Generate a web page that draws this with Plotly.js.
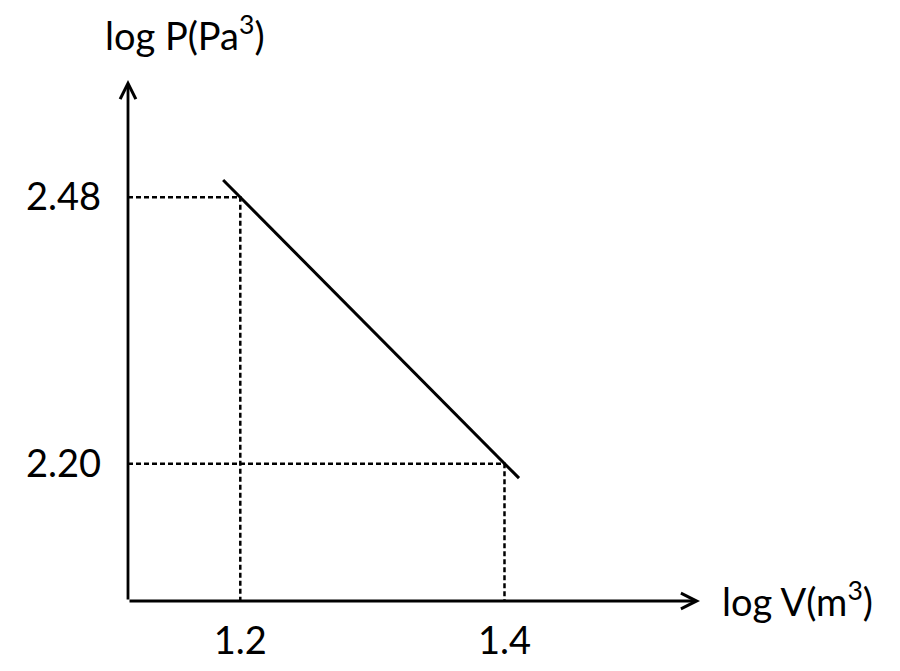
<!DOCTYPE html>
<html>
<head>
<meta charset="utf-8">
<script src="https://cdn.plot.ly/plotly-3.0.1.min.js"></script>
<style>
  body { margin: 0; background: #fff; }
  #chart { width: 900px; height: 671px; }
</style>
</head>
<body>
<div id="chart"></div>
<script>
// values
const xTicks = [1.2, 1.4];
const xTickText = ["1.2", "1.4"];
const yTicks = [2.2, 2.48];
const yTickText = ["2.20", "2.48"];

// the two marked points
const pointX = [1.2, 1.4];
const pointY = [2.48, 2.2];

// the drawn line runs a little past both points
const lineX = [1.187, 1.411];
const lineY = [2.498, 2.185];

const xMin = 1.115, xMax = 1.548;
const yMin = 2.056, yMax = 2.603;

const FONT = "Lato, 'Open Sans', sans-serif";

var traces = [];

// dotted guide lines for each point
for (let i = 0; i < pointX.length; i++) {
  traces.push({
    x: [xMin, pointX[i], pointX[i]],
    y: [pointY[i], pointY[i], yMin],
    mode: "lines",
    line: { color: "#000", width: 2.5, dash: "5px,3px" },
    hoverinfo: "skip",
  });
}

traces.push({
  x: lineX,
  y: lineY,
  mode: "lines",
  line: { color: "#000", width: 3 },
});

var layout = {
  width: 900,
  height: 671,
  showlegend: false,
  margin: { l: 128, r: 200, t: 80, b: 70, pad: 0 },
  paper_bgcolor: "#fff",
  plot_bgcolor: "#fff",
  font: { family: FONT, color: "#000", size: 38 },
  xaxis: {
    range: [xMin, xMax],
    tickvals: xTicks,
    ticktext: xTickText,
    showgrid: false,
    zeroline: false,
    showline: false,
    ticks: "",
    ticklabelstandoff: 14,
    tickfont: { family: FONT, size: 38 },
  },
  yaxis: {
    range: [yMin, yMax],
    tickvals: yTicks,
    ticktext: yTickText,
    showgrid: false,
    zeroline: false,
    showline: false,
    ticks: "",
    ticklabelstandoff: 26,
    tickfont: { family: FONT, size: 38 },
  },
  annotations: [
    // y axis with arrow
    {
      x: xMin, y: yMax, xref: "x", yref: "y",
      ax: xMin, ay: yMin, axref: "x", ayref: "y",
      showarrow: true, arrowhead: 5, arrowsize: 1.1, arrowwidth: 2.8,
      arrowcolor: "#000", text: "",
    },
    // x axis with arrow
    {
      x: xMax, y: yMin, xref: "x", yref: "y",
      ax: xMin, ay: yMin, axref: "x", ayref: "y",
      showarrow: true, arrowhead: 5, arrowsize: 1.1, arrowwidth: 2.8,
      arrowcolor: "#000", text: "",
    },
    {
      x: 0, y: 1, xref: "paper", yref: "paper",
      xanchor: "center", yanchor: "middle",
      text: "log P(Pa<sup>3</sup>)",
      showarrow: false,
      font: { family: FONT, size: 38 },
    },
    {
      x: xMax, y: yMin, xref: "x", yref: "y",
      xanchor: "left", yanchor: "middle", xshift: 20, yshift: 2,
      text: "log V(m<sup>3</sup>)",
      showarrow: false,
      font: { family: FONT, size: 38 },
    },
  ],
};

// title sits above the y arrow, placed in pixels via paper coords
layout.annotations[2].x = (185 - 128) / (900 - 128 - 200);
layout.annotations[2].y = 1 + (80 - 33) / (671 - 80 - 70);

Plotly.newPlot("chart", traces, layout, { staticPlot: true });
</script>
</body>
</html>
